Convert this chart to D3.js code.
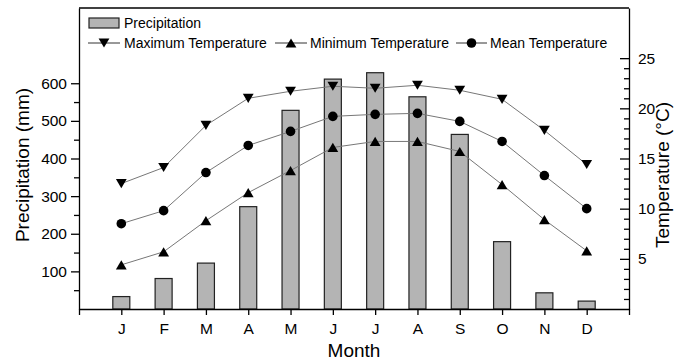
<!DOCTYPE html>
<html>
<head>
<meta charset="utf-8">
<script src="https://cdn.jsdelivr.net/npm/d3@7"></script>
<style>
  body { margin: 0; background: #fff; }
  svg, svg text { font-family: Arial, "Liberation Sans", sans-serif; }
</style>
</head>
<body>
<svg id="chart" width="686" height="363"></svg>
<script>
var months = ["J", "F", "M", "A", "M", "J", "J", "A", "S", "O", "N", "D"];
var precipitation = [33, 81, 122, 272, 528, 611, 628, 564, 464, 179, 43, 21];
var maxTemp = [12.5, 14.1, 18.3, 21.0, 21.7, 22.2, 22.0, 22.3, 21.8, 20.9, 17.8, 14.4];
var minTemp = [4.4, 5.7, 8.8, 11.6, 13.8, 16.1, 16.7, 16.7, 15.7, 12.4, 8.9, 5.8];
var meanTemp = [8.5, 9.8, 13.6, 16.3, 17.7, 19.2, 19.4, 19.5, 18.7, 16.7, 13.3, 10.0];
var precipTicks = [100, 200, 300, 400, 500, 600];
var tempTicks = [5, 10, 15, 20, 25];

var margin = {top: 8, right: 57, bottom: 54, left: 79};
var width = 686 - margin.left - margin.right,
    height = 363 - margin.top - margin.bottom;

var svg = d3.select("#chart");
var g = svg.append("g")
    .attr("transform", "translate(" + margin.left + "," + margin.top + ")");

var x = d3.scaleLinear().domain([0, 13]).range([0, width]);
var yP = d3.scaleLinear().domain([0, 800]).range([height, 0]);
var yT = d3.scaleLinear().domain([0, 30]).range([height, 0]);

var barW = 17;

// bars
g.selectAll(".bar")
    .data(precipitation)
    .enter().append("rect")
    .attr("class", "bar")
    .attr("x", function (d, i) { return x(i + 1) - barW / 2; })
    .attr("y", function (d) { return yP(d); })
    .attr("width", barW)
    .attr("height", function (d) { return height - yP(d); })
    .style("fill", "#b4b4b4")
    .style("stroke", "#222")
    .style("stroke-width", 1.2);

// temperature series
function triDown(s) { return "M" + (-s) + "," + (-s * 0.85) + "L" + s + "," + (-s * 0.85) + "L0," + (s * 0.85) + "Z"; }
function triUp(s) { return "M" + (-s) + "," + (s * 0.85) + "L" + s + "," + (s * 0.85) + "L0," + (-s * 0.85) + "Z"; }
function circ(s) { return "M" + (-s) + ",0a" + s + "," + s + " 0 1,0 " + (2 * s) + ",0a" + s + "," + s + " 0 1,0 " + (-2 * s) + ",0Z"; }

var series = [
    {name: "Maximum Temperature", values: maxTemp, shape: triDown},
    {name: "Minimum Temperature", values: minTemp, shape: triUp},
    {name: "Mean Temperature", values: meanTemp, shape: circ}
];

function marker(s) { return s.shape(s.shape === circ ? 4.8 : 5.4); }

var line = d3.line()
    .x(function (d, i) { return x(i + 1); })
    .y(function (d) { return yT(d); });

series.forEach(function (s) {
    g.append("path")
        .datum(s.values)
        .attr("d", line)
        .style("fill", "none")
        .style("stroke", "#777")
        .style("stroke-width", 1);
    g.selectAll(null)
        .data(s.values)
        .enter().append("path")
        .attr("transform", function (d, i) { return "translate(" + x(i + 1) + "," + yT(d) + ")"; })
        .attr("d", marker(s))
        .style("fill", "#000");
});

// axes
var xAxis = d3.axisBottom(x)
    .tickValues(d3.range(0, 14))
    .tickFormat(function (d) { return d >= 1 && d <= 12 ? months[d - 1] : ""; })
    .tickSize(6).tickSizeOuter(0);
var gx = g.append("g")
    .attr("transform", "translate(0," + height + ")")
    .call(xAxis);
gx.selectAll("text")
    .style("font-size", "15.5px")
    .style("font-family", "Arial, 'Liberation Sans', sans-serif")
    .attr("dy", "1.05em").style("fill", "#000");

var gyL = g.append("g").call(d3.axisLeft(yP).tickValues(d3.range(50, 601, 50)).tickSize(5).tickSizeOuter(0).tickFormat(""));
gyL.selectAll(".tick line").attr("x2", function (d) { return d % 100 === 0 ? -8 : -5; });
g.selectAll(null).data(precipTicks).enter().append("text")
    .attr("x", -12).attr("y", function (d) { return yP(d); })
    .attr("dy", "0.35em").attr("text-anchor", "end")
    .style("font-size", "15.5px").style("fill", "#000").text(function (d) { return d; });

var gyR = g.append("g").attr("transform", "translate(" + width + ",0)")
    .call(d3.axisRight(yT).tickValues(d3.range(1, 26)).tickSize(0).tickSizeOuter(0).tickFormat(""));
gyR.selectAll(".tick line").attr("x2", function (d) { return d % 5 === 0 ? -9 : -5; });
g.selectAll(null).data(tempTicks).enter().append("text")
    .attr("x", width + 9).attr("y", function (d) { return yT(d); })
    .attr("dy", "0.35em").attr("text-anchor", "start")
    .style("font-size", "15.5px").style("fill", "#000").text(function (d) { return d; });

g.selectAll(".domain, .tick line").style("stroke", "#000").style("stroke-width", 1.3);

// frame top
g.append("line").attr("x1", 0).attr("x2", width).attr("y1", 0).attr("y2", 0)
    .style("stroke", "#000").style("stroke-width", 1.5);

// axis titles
svg.append("text")
    .attr("transform", "translate(29,165) rotate(-90)")
    .attr("text-anchor", "middle")
    .style("font-size", "19px")
    .text("Precipitation (mm)");
svg.append("text")
    .attr("transform", "translate(669,175) rotate(-90)")
    .attr("text-anchor", "middle")
    .style("font-size", "19px")
    .text("Temperature (\u00B0C)");
svg.append("text")
    .attr("x", x(6.5) + margin.left).attr("y", 357)
    .attr("text-anchor", "middle")
    .style("font-size", "19px")
    .text("Month");

// legend
var lg = svg.append("g");
lg.append("rect").attr("x", 89).attr("y", 18).attr("width", 30).attr("height", 10)
    .style("fill", "#b4b4b4").style("stroke", "#222").style("stroke-width", 1.2);
lg.append("text").attr("x", 124).attr("y", 23).attr("dy", "0.35em")
    .style("font-size", "14px").text("Precipitation");

var legendPos = [{x0: 88, x1: 120, tx: 124}, {x0: 275, x1: 307, tx: 310}, {x0: 456, x1: 487, tx: 490}];
series.forEach(function (s, i) {
    var p = legendPos[i], ly = 43;
    lg.append("line").attr("x1", p.x0).attr("x2", p.x1).attr("y1", ly).attr("y2", ly)
        .style("stroke", "#333").style("stroke-width", 1);
    lg.append("path").attr("transform", "translate(" + ((p.x0 + p.x1) / 2) + "," + ly + ")")
        .attr("d", marker(s)).style("fill", "#000");
    lg.append("text").attr("x", p.tx).attr("y", ly).attr("dy", "0.35em")
        .style("font-size", "14px").text(s.name);
});
</script>
</body>
</html>
